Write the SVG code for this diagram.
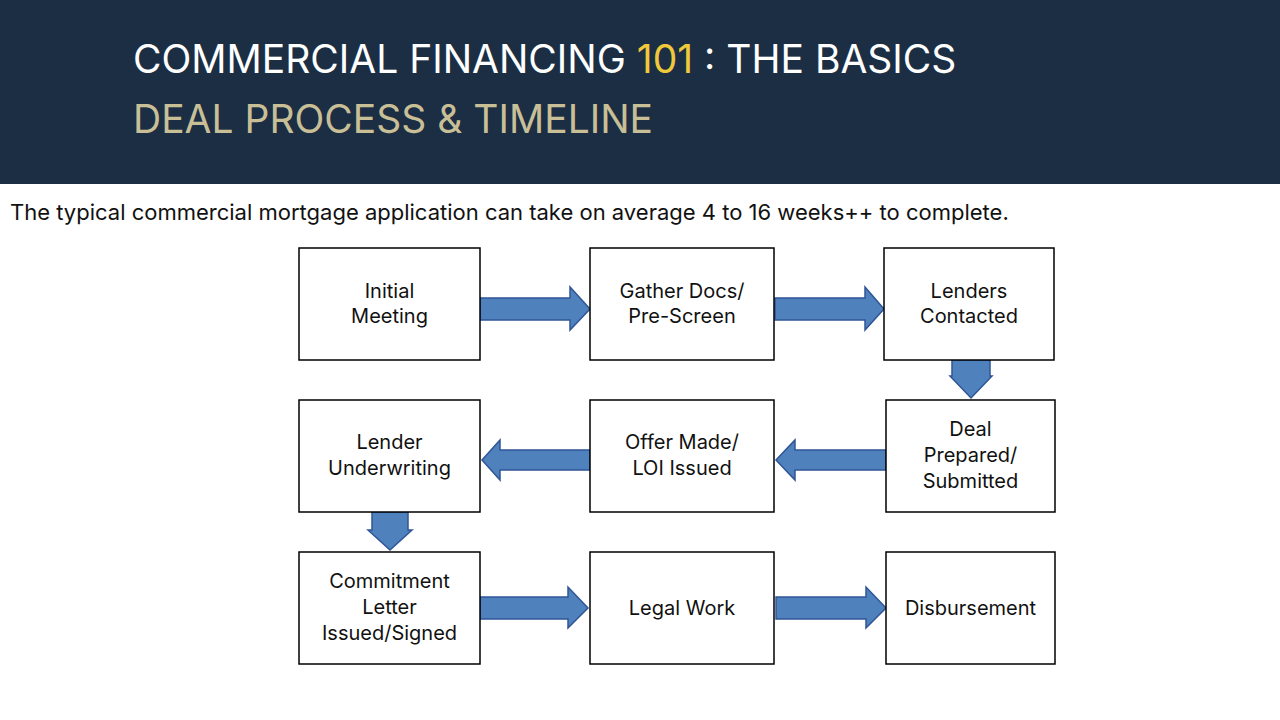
<svg xmlns="http://www.w3.org/2000/svg" width="1280" height="720" viewBox="0 0 1280 720">
<style>
.box{fill:#fff;stroke:#000;stroke-width:1.5}
.t{font-family:Inter,"Open Sans",sans-serif;font-size:20px;fill:#111;text-anchor:middle}
.arr{fill:#4f81bd;stroke:#2f5597;stroke-width:1.5}
</style>
<rect width="1280" height="720" fill="#fff"/>
<rect width="1280" height="184" fill="#1b2e44"/>
<text x="133" y="73" font-family="Inter,'Open Sans',sans-serif" font-size="39" fill="#fff">COMMERCIAL FINANCING <tspan fill="#f0c93a">101</tspan> : THE BASICS</text>
<text x="133" y="133" font-family="Inter,'Open Sans',sans-serif" font-size="39" fill="#c9bf97">DEAL PROCESS &amp; TIMELINE</text>
<text x="10" y="220" font-family="Inter,'Open Sans',sans-serif" font-size="22" fill="#111">The typical commercial mortgage application can take on average 4 to 16 weeks++ to complete.</text>
<g id="connectors">
<polygon class="arr" points="480,298 570,298 570,287 590,309 570,330 570,320 480,320"/>
<polygon class="arr" points="775,298 865,298 865,287 884,309 865,330 865,320 775,320"/>
<polygon class="arr" points="952,360 990,360 990,376 992,376 971,398 950,376 952,376"/>
<polygon class="arr" points="590,450 500,450 500,440 482,460 500,480 500,470 590,470"/>
<polygon class="arr" points="886,450 795,450 795,440 776,460 795,480 795,470 886,470"/>
<polygon class="arr" points="372,512 408,512 408,530 412,530 390,550 368,530 372,530"/>
<polygon class="arr" points="480,597 568,597 568,587 588,608 568,628 568,619 480,619"/>
<polygon class="arr" points="776,597 866,597 866,587 886,608 866,628 866,619 776,619"/>
</g>
<g id="n1"><rect class="box" x="299" y="248" width="181" height="112"/><text class="t" x="389.5" y="298">Initial</text><text class="t" x="389.5" y="323">Meeting</text></g>
<g id="n2"><rect class="box" x="590" y="248" width="184" height="112"/><text class="t" x="682" y="298">Gather Docs/</text><text class="t" x="682" y="323">Pre-Screen</text></g>
<g id="n3"><rect class="box" x="884" y="248" width="170" height="112"/><text class="t" x="969" y="298">Lenders</text><text class="t" x="969" y="323">Contacted</text></g>
<g id="n4"><rect class="box" x="886" y="400" width="169" height="112"/><text class="t" x="970.5" y="436">Deal</text><text class="t" x="970.5" y="462">Prepared/</text><text class="t" x="970.5" y="488">Submitted</text></g>
<g id="n5"><rect class="box" x="590" y="400" width="184" height="112"/><text class="t" x="682" y="449">Offer Made/</text><text class="t" x="682" y="475">LOI Issued</text></g>
<g id="n6"><rect class="box" x="299" y="400" width="181" height="112"/><text class="t" x="389.5" y="449">Lender</text><text class="t" x="389.5" y="475">Underwriting</text></g>
<g id="n7"><rect class="box" x="299" y="552" width="181" height="112"/><text class="t" x="389.5" y="588">Commitment</text><text class="t" x="389.5" y="614">Letter</text><text class="t" x="389.5" y="640">Issued/Signed</text></g>
<g id="n8"><rect class="box" x="590" y="552" width="184" height="112"/><text class="t" x="682" y="615">Legal Work</text></g>
<g id="n9"><rect class="box" x="886" y="552" width="169" height="112"/><text class="t" x="970.5" y="615">Disbursement</text></g>
</svg>
